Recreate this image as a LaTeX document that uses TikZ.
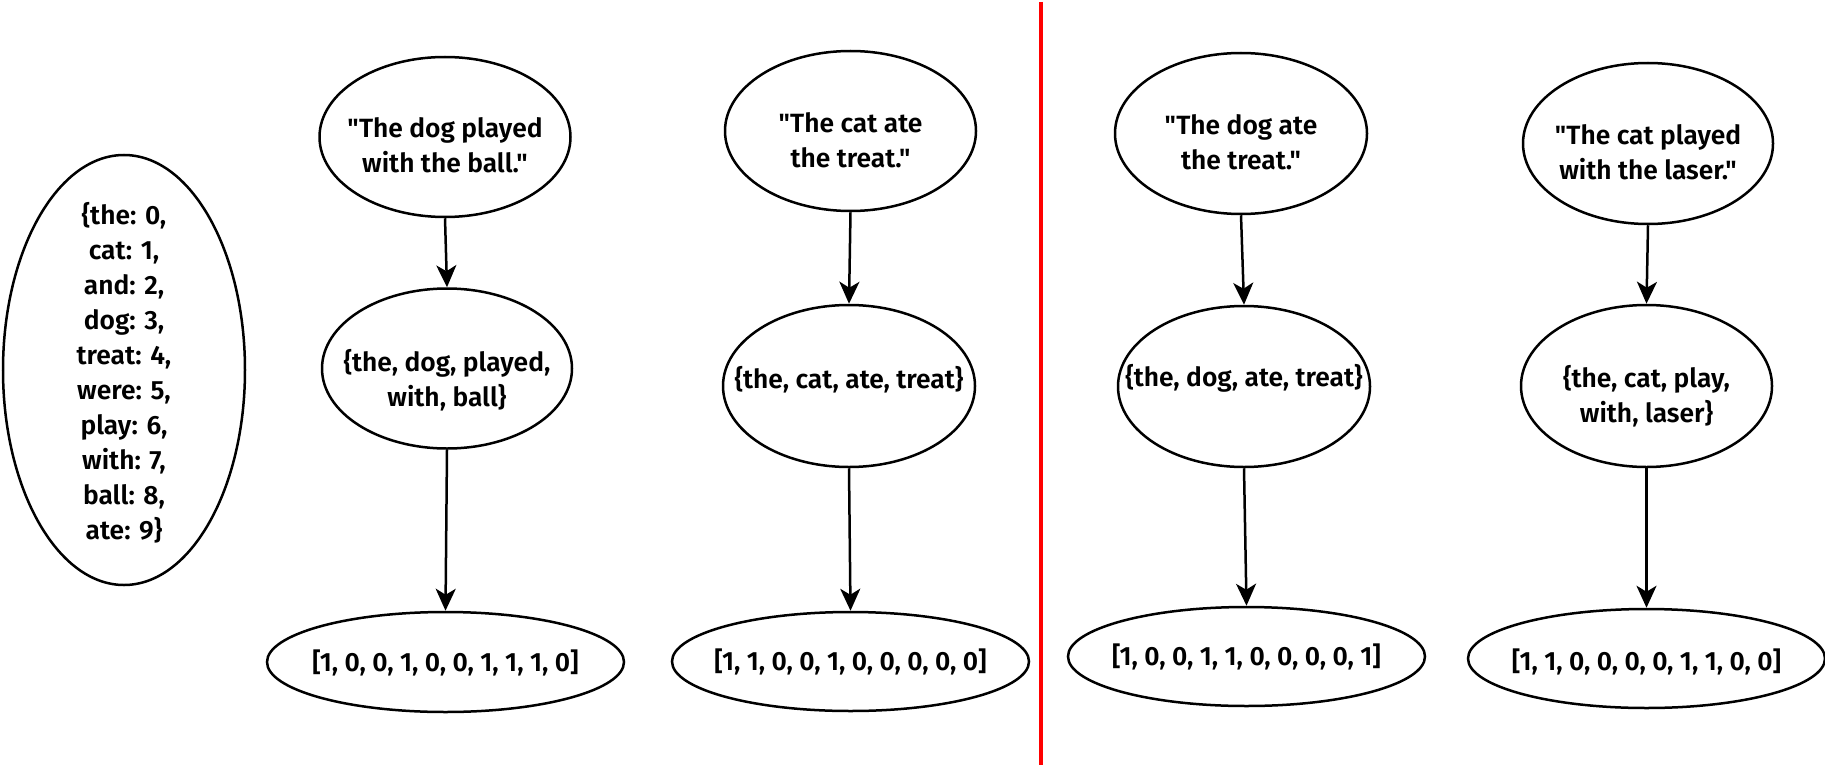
\documentclass[tikz,border=0pt]{standalone}
\usepackage{fontspec}
\setmainfont{Fira Sans}[Ligatures=TeXOff,UprightFont={* SemiBold},BoldFont={* Bold}]
\usetikzlibrary{shapes.geometric,arrows.meta}
\newcommand{\dq}{\symbol{34}}
\begin{document}
\begin{tikzpicture}[x=0.5pt,y=-0.5pt,
  ell/.style={draw, ellipse, line width=1.25pt, inner sep=0pt},
  lbl/.style={align=center, font=\fontsize{13.2}{17.5}\selectfont, inner sep=0pt},
  arr/.style={line width=1.25pt, -{Stealth[length=11pt,width=10pt,inset=3pt]}},
  sep/.style={draw=red, line width=2pt}]
\useasboundingbox (0,0) rectangle (1825,765);
% ellipses
\node[ell, minimum width=121pt, minimum height=215pt] (voc) at (124,370) {};
\node[ell, minimum width=125.5pt, minimum height=80pt] (t1) at (445,137) {};
\node[ell, minimum width=125pt, minimum height=80pt] (m1) at (447,368.5) {};
\node[ell, minimum width=178.5pt, minimum height=50pt] (b1) at (445.5,662) {};
\node[ell, minimum width=125.5pt, minimum height=80pt] (t2) at (850.5,131) {};
\node[ell, minimum width=126pt, minimum height=81pt] (m2) at (849,386) {};
\node[ell, minimum width=178.5pt, minimum height=49.5pt] (b2) at (850.5,661.5) {};
\node[ell, minimum width=126pt, minimum height=80.5pt] (t3) at (1241,133.5) {};
\node[ell, minimum width=126pt, minimum height=80.5pt] (m3) at (1244,386.5) {};
\node[ell, minimum width=178.5pt, minimum height=49.5pt] (b3) at (1246.5,656.5) {};
\node[ell, minimum width=125pt, minimum height=80.5pt] (t4) at (1648,143.5) {};
\node[ell, minimum width=125.5pt, minimum height=81pt] (m4) at (1646.5,386) {};
\node[ell, minimum width=178.5pt, minimum height=49.5pt] (b4) at (1646.5,658.5) {};
% labels
\node[lbl] (voct) at (124,373) {\{the: 0,\\cat: 1,\\and: 2,\\dog: 3,\\treat: 4,\\were: 5,\\play: 6,\\with: 7,\\ball: 8,\\ate: 9\}};
\node[lbl] (t1t) at (445,145.5) {\dq The dog played\\with the ball.\dq};
\node[lbl] (m1t) at (447,380) {\{the, dog, played,\\with, ball\}};
\node[lbl] (b1t) at (445.5,663) {[1, 0, 0, 1, 0, 0, 1, 1, 1, 0]};
\node[lbl] (t2t) at (850.5,140.5) {\dq The cat ate\\the treat.\dq};
\node[lbl] (m2t) at (849,380) {\{the, cat, ate, treat\}};
\node[lbl] (b2t) at (850.5,662) {[1, 1, 0, 0, 1, 0, 0, 0, 0, 0]};
\node[lbl] (t3t) at (1241,142.5) {\dq The dog ate\\the treat.\dq};
\node[lbl] (m3t) at (1244,378) {\{the, dog, ate, treat\}};
\node[lbl] (b3t) at (1246.5,657) {[1, 0, 0, 1, 1, 0, 0, 0, 0, 1]};
\node[lbl] (t4t) at (1648,152.5) {\dq The cat played\\with the laser.\dq};
\node[lbl] (m4t) at (1646.5,396.5) {\{the, cat, play,\\with, laser\}};
\node[lbl] (b4t) at (1646.5,662) {[1, 1, 0, 0, 0, 0, 1, 1, 0, 0]};
% connectors
\draw[arr] (t1.south) -- (m1.north);
\draw[arr] (m1.south) -- (b1.north);
\draw[arr] (t2.south) -- (m2.north);
\draw[arr] (m2.south) -- (b2.north);
\draw[arr] (t3.south) -- (m3.north);
\draw[arr] (m3.south) -- (b3.north);
\draw[arr] (t4.south) -- (m4.north);
\draw[arr] (m4.south) -- (b4.north);
% separator
\coordinate (sepTop) at (1041,2);
\coordinate (sepBot) at (1041,765);
\draw[sep] (sepTop) -- (sepBot);
\end{tikzpicture}
\end{document}
